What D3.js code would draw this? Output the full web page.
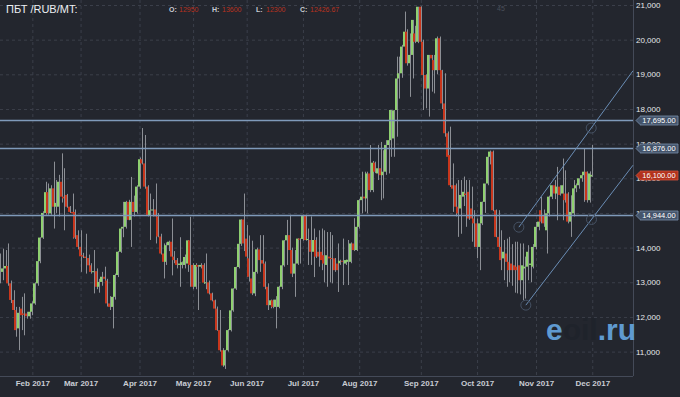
<!DOCTYPE html>
<html>
<head>
<meta charset="utf-8">
<title>ПБТ /RUB/MT</title>
<script src="https://d3js.org/d3.v7.min.js"></script>
<style>
  * { margin: 0; padding: 0; }
  body { background: #23262e; width: 680px; height: 397px; overflow: hidden; }
  text { font-family: "Liberation Sans", Arial, sans-serif; }
  .grid line { stroke: #3b3f4a; stroke-dasharray: 3,3; }
  .grid path { display: none; }
  .axis path { display: none; }
  .axis line { display: none; }
  .y.axis text { fill: #e6e8ec; font-size: 8px; }
  .x.axis text { fill: #c9cdd5; font-size: 8px; font-weight: bold; }
</style>
</head>
<body>
<script>
// months on the bottom axis and the candle index where each starts
var monthLabels = ["Feb 2017", "Mar 2017", "Apr 2017", "May 2017", "Jun 2017", "Jul 2017",
                   "Aug 2017", "Sep 2017", "Oct 2017", "Nov 2017", "Dec 2017"];
var monthStart = [12, 30, 52, 72, 92, 113, 134, 157, 178, 200, 221];

// daily candles, mid-Jan .. 1 Dec 2017
var opens = [13150,13300,13400,13470,12970,12490,12200,11670,12240,12100,12100,12020,12150,12390,12970,13610,14290,15000,15600,14990,
  15710,15180,15180,15900,15470,15520,15180,15030,15030,14360,14020,13780,13740,13700,13490,13300,13320,12870,13010,13160,
  13050,12390,12290,12580,13210,13880,14550,14600,15320,14800,15320,15030,15760,16550,16430,15760,14940,15080,15100,14900,
  14320,13830,13590,14070,14170,13740,13640,13500,13500,13500,13540,14210,13500,12870,13500,13450,13500,12990,13000,12680,
  12480,12240,11620,11040,10600,11040,11620,12190,12820,13440,14110,14810,14260,13690,13110,12680,13300,13950,13640,13540,
  12870,12340,12480,12290,12290,12870,13490,14210,14360,13930,13250,13540,14260,14250,14940,14220,14220,13880,14220,13880,
  13880,13780,13500,13740,13700,13690,13540,13550,13620,13540,13590,13590,14120,13930,14600,15370,15470,15420,16140,15660,
  16450,16140,16290,16090,16190,16960,17100,17150,17970,18880,19030,19800,20230,19320,19560,20180,19940,20950,19940,18980,
  18590,19560,19410,19120,20040,19120,18160,17300,16670,15800,15800,15180,15130,15470,15560,15610,15130,14840,14700,14020,
  14700,15320,15850,16620,16770,15080,14310,14020,13690,13830,13590,13540,13490,13450,13490,13060,13400,13450,13500,13450,
  14020,14600,15080,14940,14500,14990,15470,15800,15560,15760,15560,15560,15560,14750,14990,15710,15800,16000,16090,16190,
  15370,16050];
var highs = [13830,13970,13930,14120,13050,12770,12290,12290,12580,12680,12150,12200,12450,13000,13650,14300,15050,15900,15850,15800,
  16480,15950,16100,16720,16290,15550,15200,15560,15100,14500,14500,13850,14400,13800,13550,13930,13400,13100,13300,13450,
  13100,12600,12780,13250,13900,14560,15320,15350,15380,16040,15500,15800,16600,17450,17250,15800,15560,15400,15850,15000,
  14400,14120,14150,14200,14840,13900,13700,14300,13600,13800,14220,14890,13550,13550,13500,13550,13550,13830,13050,12700,
  12500,12300,12200,11100,11050,11650,12200,12830,13450,14120,14820,15560,14650,14350,14200,13350,14000,14360,14360,13600,
  12970,12500,12500,12600,12900,13500,14220,14800,14950,14000,13930,14270,14270,14950,14950,14550,14900,14550,14300,14500,
  14550,14500,14450,14450,14360,13700,14120,13650,14260,13650,14220,14150,14850,14650,15400,16190,16190,16190,16960,16500,
  16480,16960,17050,16810,17100,17970,17970,17970,19510,19510,19850,20810,20300,20180,20570,20400,20950,20960,20000,19000,
  19560,19560,19560,20090,20090,19130,19030,17350,17490,16430,15850,15950,15950,16050,15950,15950,15760,15080,14840,14700,
  15330,15850,16640,16800,16800,15100,15080,14500,14220,14260,14310,14100,14170,14170,14120,14120,13740,14070,14000,14100,
  14740,14850,15470,15100,14990,15500,15800,15950,16330,15800,16570,16230,15600,15510,15950,15850,16000,16100,16860,16200,
  16200,16960];
var lows = [12970,13060,13160,12900,12400,11810,11430,11040,11620,11470,11950,11950,12050,12350,12900,13550,14250,14950,14950,14950,
  14550,15000,14900,15300,14500,15150,15000,14260,14250,13950,13300,13700,13250,13400,13250,12680,12800,12700,12900,12580,
  12300,12200,11670,12500,13150,13850,14300,14550,14790,14020,14900,14980,15700,16400,15700,14900,14220,14900,14120,14300,
  13800,13110,13500,13900,13200,13550,13400,12870,13400,13400,13300,12870,12800,12800,12200,13400,12950,12800,12650,12450,
  12230,11600,11000,10560,10500,11000,11580,12150,12780,13400,14050,13900,13160,13020,12630,12600,13250,13300,12910,12800,
  12200,12250,12250,11670,12250,12800,13450,13500,13900,13150,12580,13500,13540,14200,14200,13500,13500,13150,13700,13450,
  13350,13000,12870,13000,12970,13300,12720,13500,12920,13500,12920,13550,13900,13900,14550,14990,15040,14990,15600,15600,
  16150,15950,15370,15420,16100,16140,16620,16620,17200,18300,18900,19700,19250,18350,18880,19900,19900,19360,17970,18020,
  17780,18500,18450,19000,19030,18000,17200,16430,15750,15030,14900,14310,14400,15200,14600,14800,14170,14020,13700,13350,
  14650,15000,15800,16400,15050,14300,14000,13350,13060,12870,13000,12900,12700,12680,12650,12480,12530,13060,13000,13400,
  13950,14500,14700,14600,13830,14900,15400,15400,14790,15500,14790,15300,14700,14310,14900,15600,15700,15900,15320,15300,
  15300,16040];
var closes = [13300,13400,13470,12970,12490,12200,11620,12120,12050,12060,12020,12150,12390,12970,13610,14290,15000,15600,14990,15710,
  15180,15290,15900,15470,15420,15180,15030,14990,14290,14020,13750,13740,13700,13490,13300,13320,12870,13010,13160,13100,
  12390,12290,12580,13210,13880,14550,14600,15320,14800,15320,15030,15760,16550,16430,15760,14940,15080,15100,14900,14320,
  13830,13590,14070,14170,13740,13640,13500,13540,13580,13730,14210,13500,12870,13500,13450,13500,12990,13000,12680,12480,
  12240,11620,11040,10600,11040,11620,12190,12820,13440,14110,14810,14120,13740,13160,12680,13300,13950,13640,13540,12870,
  12340,12480,12290,12500,12870,13490,14210,14360,13930,13250,13540,14260,14250,14940,14220,14250,13880,14220,13740,13740,
  13640,13540,13780,13690,13690,13350,13350,13620,13600,13640,13650,14120,13930,14600,15370,15470,15420,16140,15660,16450,
  16190,16290,16090,16190,16960,17100,17970,17960,18880,19030,19800,20230,19320,19560,20570,19940,20950,19940,18980,18590,
  19560,19460,19120,20040,19120,18160,17300,16620,15800,15700,15180,14990,15520,15610,15520,14840,14840,14700,14020,14700,
  15320,15850,16620,16770,15080,14310,14020,13640,13880,13590,13350,13350,13350,13350,13060,13490,13450,13880,13540,14020,
  14600,14750,14750,14700,14990,15470,15800,15560,15760,15520,15800,15370,14750,15030,15710,15800,16000,16090,16190,15370,
  16140,16100];

// horizontal price levels, last price, trend channel anchors (index, price)
var levels = [17695, 16876, 14944];
var lastPrice = 16100;
var channelUpper = [[193.6, 14590], [220.6, 17450]];
var channelLower = [[196.2, 12340], [220.7, 14813]];
var yTicks = [11000, 12000, 13000, 14000, 15000, 16000, 17000, 18000, 19000, 20000, 21000];
var ohlcLabels = ["O:", "H:", "L:", "C:"];
var ohlcValues = ["12950", "13600", "12300", "12426.67"];

var W = 680, H = 397;
var plotR = 633, plotB = 376;

var x = d3.scaleLinear().domain([0, 236.2]).range([0.2, plotR]);
var y = d3.scaleLinear().domain([11000, 21000]).range([351.6, 5]);

var svg = d3.select("body").append("svg").attr("width", W).attr("height", H);
svg.append("rect").attr("width", W).attr("height", H).attr("fill", "#23262e");

// grid
svg.append("g").attr("class", "grid")
  .call(d3.axisRight(y).tickValues(yTicks).tickSize(plotR).tickFormat(""));
svg.append("g").attr("class", "grid")
  .call(d3.axisBottom(x).tickValues(monthStart).tickSize(plotB).tickFormat(""));

// frame lines
svg.append("line").attr("x1", plotR + 0.5).attr("x2", plotR + 0.5).attr("y1", 0).attr("y2", plotB)
  .attr("stroke", "#444a58");
svg.append("line").attr("x1", 0).attr("x2", plotR).attr("y1", plotB + 0.5).attr("y2", plotB + 0.5)
  .attr("stroke", "#444a58");

// candles
var data = opens.map(function (o, i) {
  return { i: i, o: o, h: highs[i], l: lows[i], c: closes[i] };
});
var candles = svg.append("g");
candles.selectAll("line").data(data).enter().append("line")
  .attr("x1", function (d) { return Math.round(x(d.i)) + 0.5; })
  .attr("x2", function (d) { return Math.round(x(d.i)) + 0.5; })
  .attr("y1", function (d) { return y(d.h); })
  .attr("y2", function (d) { return y(d.l); })
  .attr("stroke", "#8c8f95").attr("stroke-width", 1);
candles.selectAll("rect").data(data).enter().append("rect")
  .attr("x", function (d) { return Math.round(x(d.i)) - 2; })
  .attr("width", 2)
  .attr("y", function (d) { return y(Math.max(d.o, d.c)); })
  .attr("height", function (d) { return Math.max(1, Math.abs(y(d.o) - y(d.c))); })
  .attr("fill", function (d) { return d.c >= d.o ? "#8fd070" : "#c8361c"; });

// level lines
svg.selectAll(".level").data(levels).enter().append("line")
  .attr("x1", 0).attr("x2", plotR)
  .attr("y1", function (d) { return Math.round(y(d)) + 0.5; })
  .attr("y2", function (d) { return Math.round(y(d)) + 0.5; })
  .attr("stroke", "#7f9aba").attr("stroke-width", 1.5);

// trend channel
[channelUpper, channelLower].forEach(function (c) {
  var slope = (c[1][1] - c[0][1]) / (c[1][0] - c[0][0]);
  var endI = x.domain()[1];
  svg.append("line")
    .attr("x1", x(c[0][0])).attr("y1", y(c[0][1]))
    .attr("x2", x(endI)).attr("y2", y(c[0][1] + slope * (endI - c[0][0])))
    .attr("stroke", "#6a8db5").attr("stroke-width", 1);
  c.forEach(function (p) {
    svg.append("circle").attr("cx", x(p[0])).attr("cy", y(p[1])).attr("r", 5)
      .attr("fill", "none").attr("stroke", "#465264").attr("stroke-width", 1);
  });
});

// axes
svg.append("g").attr("class", "y axis")
  .attr("transform", "translate(" + plotR + ",0)")
  .call(d3.axisRight(y).tickValues(yTicks).tickSize(0).tickPadding(3).tickFormat(d3.format(",")));
svg.append("g").attr("class", "x axis")
  .attr("transform", "translate(0," + plotB + ")")
  .call(d3.axisBottom(x).tickValues(monthStart).tickSize(0).tickPadding(4)
    .tickFormat(function (d, i) { return monthLabels[i]; }));

// price tags (drawn over the axis labels, as in the terminal)
var fmt = d3.format(",.2f");
function tag(v, fill, stroke) {
  var cy = Math.round(y(v)) + 0.5;
  var g = svg.append("g");
  g.append("path")
    .attr("d", "M636," + cy + " L640," + (cy - 4) + " L640," + (cy - 4.5) + " L678," + (cy - 4.5) +
      " L678," + (cy + 4.5) + " L640," + (cy + 4.5) + " L640," + (cy + 4) + " Z")
    .attr("fill", fill).attr("stroke", stroke).attr("stroke-width", 0.8);
  g.append("text").attr("x", 659).attr("y", cy + 2.8).attr("text-anchor", "middle")
    .attr("fill", "#ffffff").attr("font-size", "7.5px").text(fmt(v));
}
levels.forEach(function (v) { tag(v, "#44546b", "#7a90ab"); });
tag(lastPrice, "#b3321c", "#d0533c");

// header
svg.append("text").attr("x", 6).attr("y", 13).attr("fill", "#eceef2")
  .attr("font-size", "11px").text("ПБТ /RUB/MT:");
var hx = [169, 212, 256, 300];
ohlcLabels.forEach(function (k, i) {
  svg.append("text").attr("x", hx[i]).attr("y", 11.5).attr("fill", "#c9ccd2")
    .attr("font-size", "7px").attr("font-weight", "bold").text(k);
  svg.append("text").attr("x", hx[i] + 10).attr("y", 11.5).attr("fill", "#b8321f")
    .attr("font-size", "7px").text(ohlcValues[i]);
});
svg.append("text").attr("x", 497).attr("y", 11).attr("fill", "#4a4f5a")
  .attr("font-size", "7px").text("45");

// watermark
var wm = svg.append("text").attr("x", 546).attr("y", 340).attr("font-size", "30px")
  .attr("font-weight", "bold");
wm.append("tspan").attr("fill", "#5f9ad0").text("e");
wm.append("tspan").attr("fill", "#1f232b").text("oil");
wm.append("tspan").attr("fill", "#5f9ad0").text(".ru");
</script>
</body>
</html>
